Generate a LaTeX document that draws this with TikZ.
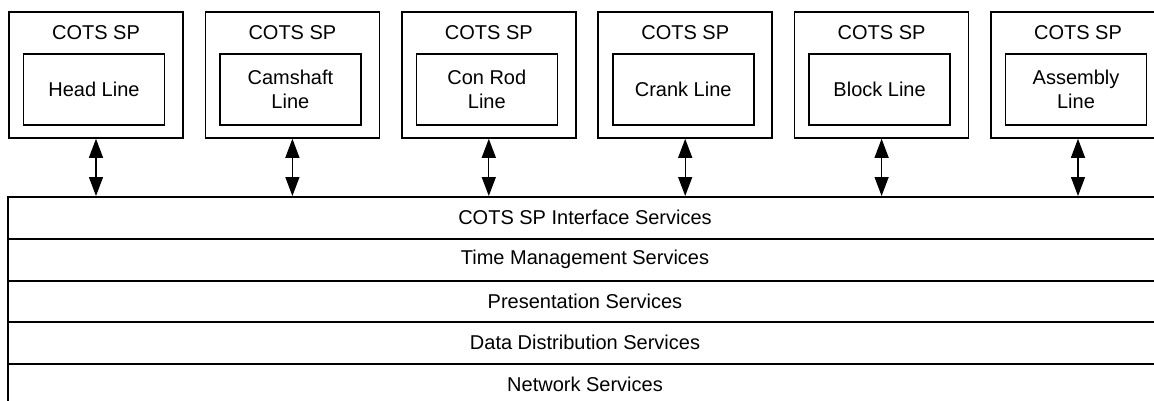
\documentclass[tikz,border=0pt]{standalone}
\usepackage{fontspec}
\setmainfont{Liberation Sans}
\usetikzlibrary{arrows.meta}
\begin{document}
\begin{tikzpicture}[x=1pt,y=-1pt,
  every node/.style={font=\fontsize{20}{24}\selectfont},
  outerbox/.style={draw,line width=1.6pt,minimum width=174pt,minimum height=126pt,inner sep=0pt},
  innerbox/.style={draw,line width=1.6pt,minimum width=141pt,minimum height=71pt,inner sep=0pt,align=center},
  toplabel/.style={inner sep=0pt},
  layer/.style={draw,line width=1.6pt,minimum width=1154pt,inner sep=0pt,anchor=north},
  dblarrow/.style={line width=1.3pt,{Triangle[width=14pt,length=19pt]}-{Triangle[width=14pt,length=19pt]}}]
\useasboundingbox (0,0) rectangle (1154,401);
\clip (0,0) rectangle (1154,401);
% outer boxes
\node[outerbox] (o1) at (96,75) {};
\node[outerbox] (o2) at (292.4,75) {};
\node[outerbox] (o3) at (488.8,75) {};
\node[outerbox] (o4) at (685.2,75) {};
\node[outerbox] (o5) at (881.6,75) {};
\node[outerbox] (o6) at (1078,75) {};
% labels
\node[toplabel] (t1) at (96,33) {COTS SP};
\node[toplabel] (t2) at (292.4,33) {COTS SP};
\node[toplabel] (t3) at (488.8,33) {COTS SP};
\node[toplabel] (t4) at (685.2,33) {COTS SP};
\node[toplabel] (t5) at (881.6,33) {COTS SP};
\node[toplabel] (t6) at (1078,33) {COTS SP};
% inner boxes
\node[innerbox] (i1) at (94,89.5) {Head Line};
\node[innerbox] (i2) at (290.4,89.5) {Camshaft\\Line};
\node[innerbox] (i3) at (486.8,89.5) {Con Rod\\Line};
\node[innerbox] (i4) at (683.2,89.5) {Crank Line};
\node[innerbox] (i5) at (879.6,89.5) {Block Line};
\node[innerbox] (i6) at (1076,89.5) {Assembly\\Line};
% layers
\node[layer,minimum height=42pt] (l1) at (585,196) {COTS SP Interface Services};
\node[layer,minimum height=42pt] (l2) at (585,238) {Time Management Services};
\node[layer,minimum height=41pt] (l3) at (585,280) {Presentation Services};
\node[layer,minimum height=42pt] (l4) at (585,321) {Data Distribution Services};
\node[layer,minimum height=42pt] (l5) at (585,363) {Network Services};
% arrows
\foreach \k in {1,...,6}{
  \draw[dblarrow] (o\k.south) -- (o\k.south |- l1.north);
}
\end{tikzpicture}
\end{document}
